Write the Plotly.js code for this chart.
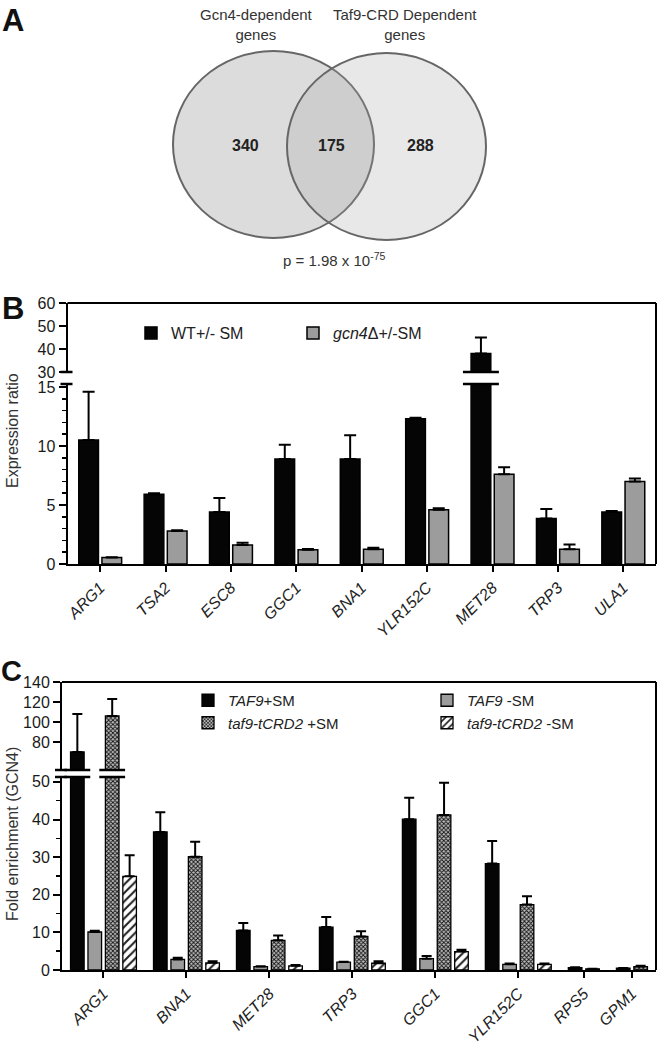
<!DOCTYPE html>
<html><head><meta charset="utf-8">
<script src="https://cdn.plot.ly/plotly-3.0.1.min.js"></script>
<style>html,body{margin:0;padding:0;background:#fff}#chart{width:666px;height:1055px}</style>
</head><body><div id="chart"></div>
<script>
// ---------- Panel A data ----------
const vennSetNames = ['Gcn4-dependent<br>genes', 'Taf9-CRD Dependent<br>genes'];
const vennCounts = [340, 175, 288]; // Gcn4 only, both, Taf9-CRD only
const vennPText = 'p = 1.98 x 10<sup>-75</sup>';

// ---------- Panel B data ----------
const genesB = ['ARG1','TSA2','ESC8','GGC1','BNA1','YLR152C','MET28','TRP3','ULA1'];
const seriesNamesB = ['WT+/- SM', '<i>gcn4</i>\u0394+/-SM'];
const wtB      = [10.5, 5.9, 4.4, 8.9, 8.9, 12.3, 38.0, 3.85, 4.4];
const wtErrB   = [4.1, 0.1, 1.2, 1.2, 2.0, 0.1, 7.0, 0.8, 0.1];
const gcnB     = [0.55, 2.8, 1.6, 1.2, 1.25, 4.6, 7.6, 1.25, 7.0];
const gcnErrB  = [0.03, 0.05, 0.2, 0.08, 0.12, 0.12, 0.6, 0.4, 0.25];
const tickValsLowB = [0, 5, 10, 15];
const tickValsHighB = [30, 40, 50, 60];

// ---------- Panel C data ----------
const genesC = ['ARG1','BNA1','MET28','TRP3','GGC1','YLR152C','RPS5','GPM1'];
const seriesNamesC = ['<i>TAF9</i>+SM', '<i>TAF9</i> -SM', '<i>taf9-tCRD2</i> +SM', '<i>taf9-tCRD2</i> -SM'];
const taf9PlusC      = [70, 36.7, 10.5, 11.4, 40.1, 28.3, 0.6, 0.5];
const taf9PlusErrC   = [38, 5.2, 2.0, 2.7, 5.7, 6.0, 0.1, 0.05];
const taf9MinusC     = [10.1, 2.8, 0.9, 2.1, 3.0, 1.5, null, null];
const taf9MinusErrC  = [0.3, 0.45, 0.1, 0.1, 0.7, 0.2, null, null];
const tcrdPlusC      = [106, 30.1, 7.9, 8.9, 41.2, 17.4, 0.3, 0.9];
const tcrdPlusErrC   = [17, 4.0, 1.3, 1.4, 8.6, 2.2, 0.05, 0.2];
const tcrdMinusC     = [24.9, 1.9, 1.1, 1.8, 4.9, 1.5, null, null];
const tcrdMinusErrC  = [5.6, 0.4, 0.2, 0.55, 0.5, 0.2, null, null];
const tickValsLowC = [0, 10, 20, 30, 40, 50];
const tickValsHighC = [80, 100, 120, 140];

// ---------- helpers ----------
const W = 666, H = 1055;
const px = v => v / W, py = v => 1 - v / H;
const FONT = 'Liberation Sans, Arial, Helvetica, sans-serif';

function groupLayout(seriesArrays, gap) {
  const n = seriesArrays[0].length;
  const xs = seriesArrays.map(() => new Array(n).fill(null));
  const centers = [];
  let cursor = 0;
  for (let i = 0; i < n; i++) {
    const present = [];
    seriesArrays.forEach((s, k) => { if (s[i] != null) present.push(k); });
    const span = present.length + gap;
    const c = cursor + span / 2;
    centers.push(c);
    present.forEach((k, j) => { xs[k][i] = c + (j - (present.length - 1) / 2); });
    cursor += span;
  }
  return {xs, centers, total: cursor};
}

function barTrace(name, x, y, err, st, xa, ya, legend, showlegend) {
  return {
    type: 'bar', name, x, y, width: st.width, xaxis: xa, yaxis: ya,
    legend, showlegend, hoverinfo: 'skip',
    marker: {color: st.color, line: {color: '#000', width: st.lw}, pattern: st.pattern},
    error_y: {type: 'data', symmetric: false, array: err, arrayminus: err.map(() => 0),
              color: '#000', thickness: 2, width: st.cap}
  };
}

const axFont = {family: FONT, size: 16, color: '#1a1a1a'};
function yax(domain, range, anchor, extra) {
  return Object.assign({domain, range, anchor, showline: true, linecolor: '#000', linewidth: 2,
    ticks: 'outside', ticklen: 7, tickwidth: 2, tickcolor: '#000', tickfont: axFont,
    showgrid: false, zeroline: false, fixedrange: true}, extra);
}

// ---------- Panel B geometry ----------
const bX0 = 67.5, bX1 = 656, bBottom = 564, bLowTop = 384, bHighBot = 372, bTop = 303;
const lowRangeB = [0, 15.25], highRangeB = [30, 60];
const BW_B = 0.85;
const layB = groupLayout([wtB, gcnB], 0.82);
const styleBlack = {color: '#050505', lw: 1.5, width: BW_B, cap: 6};
const styleGray = {color: '#9c9c9c', lw: 1.5, width: BW_B, cap: 6};

// ---------- Panel C geometry ----------
const cX0 = 62, cX1 = 656, cBottom = 970, cLowTop = 777, cHighBot = 770, cTop = 682;
const lowRangeC = [0, 51.3], highRangeC = [52, 140];
const BW_C = 0.78;
const seriesC = [taf9PlusC, taf9MinusC, tcrdPlusC, tcrdMinusC];
const errC = [taf9PlusErrC, taf9MinusErrC, tcrdPlusErrC, tcrdMinusErrC];
const layC = groupLayout(seriesC, 0.76);
const stylesC = [
  {color: '#050505', lw: 1.3, width: BW_C, cap: 5},
  {color: '#9c9c9c', lw: 1.3, width: BW_C, cap: 5},
  {color: '#aaaaaa', lw: 1.3, width: BW_C, cap: 5,
   pattern: {shape: 'x', size: 3, solidity: 0.5, fgcolor: '#111', bgcolor: '#bdbdbd', fillmode: 'replace'}},
  {color: '#ffffff', lw: 1.3, width: BW_C, cap: 5,
   pattern: {shape: '/', size: 6, solidity: 0.35, fgcolor: '#222', bgcolor: '#ffffff', fillmode: 'replace'}}
];
const legendOfC = ['legend2', 'legend3', 'legend2', 'legend3'];

// ---------- traces ----------
const traces = [];
[[wtB, wtErrB, styleBlack], [gcnB, gcnErrB, styleGray]].forEach((s, k) => {
  traces.push(barTrace(seriesNamesB[k], layB.xs[k], s[0], s[1], s[2], 'x', 'y', 'legend', true));
});
[[wtB, wtErrB, styleBlack], [gcnB, gcnErrB, styleGray]].forEach((s, k) => {
  traces.push(barTrace(seriesNamesB[k], layB.xs[k], s[0], s[1], s[2], 'x2', 'y2', 'legend', false));
});
seriesC.forEach((s, k) => {
  traces.push(barTrace(seriesNamesC[k], layC.xs[k], s, errC[k], stylesC[k], 'x3', 'y3', legendOfC[k], true));
});
seriesC.forEach((s, k) => {
  traces.push(barTrace(seriesNamesC[k], layC.xs[k], s, errC[k], stylesC[k], 'x4', 'y4', legendOfC[k], false));
});

// ---------- shapes ----------
const shapes = [];
const blk = (w) => ({color: '#000', width: w});
shapes.push({type: 'line', xref: 'paper', yref: 'paper', x0: px(bX0), x1: px(bX1), y0: py(bTop), y1: py(bTop), line: blk(2)});
shapes.push({type: 'line', xref: 'paper', yref: 'paper', x0: px(bX1), x1: px(bX1), y0: py(bBottom), y1: py(bTop), line: blk(2)});
shapes.push({type: 'line', xref: 'paper', yref: 'paper', x0: px(cX0), x1: px(cX1), y0: py(cTop), y1: py(cTop), line: blk(2)});
shapes.push({type: 'line', xref: 'paper', yref: 'paper', x0: px(cX1), x1: px(cX1), y0: py(cBottom), y1: py(cTop), line: blk(2)});
[[bX0, 'y domain', 1], [bX0, 'y2 domain', 0], [cX0, 'y3 domain', 1], [cX0, 'y4 domain', 0]].forEach(([ax, yr, yv]) => {
  shapes.push({type: 'line', xref: 'paper', yref: yr, x0: px(ax - 7), x1: px(ax + 5), y0: yv, y1: yv, line: blk(2.5)});
});
function barBreaks(vals, xs, bw, lowTop, xr, yLow, yHigh) {
  vals.forEach((v, i) => {
    if (v != null && v > lowTop) {
      const x0 = xs[i] - bw / 2 - 0.35, x1 = xs[i] + bw / 2 + 0.35;
      shapes.push({type: 'line', xref: xr, yref: yLow, x0, x1, y0: 1, y1: 1, line: blk(2.5)});
      shapes.push({type: 'line', xref: xr, yref: yHigh, x0, x1, y0: 0, y1: 0, line: blk(2.5)});
    }
  });
}
barBreaks(wtB, layB.xs[0], BW_B, lowRangeB[1], 'x', 'y domain', 'y2 domain');
barBreaks(gcnB, layB.xs[1], BW_B, lowRangeB[1], 'x', 'y domain', 'y2 domain');
seriesC.forEach((s, k) => barBreaks(s, layC.xs[k], BW_C, lowRangeC[1], 'x3', 'y3 domain', 'y4 domain'));

// Venn circles
shapes.push({type: 'circle', xref: 'x5', yref: 'y5', x0: 173, x1: 374, y0: 51, y1: 238,
  fillcolor: 'rgba(140,140,140,0.30)', line: {color: '#666', width: 2}});
shapes.push({type: 'circle', xref: 'x5', yref: 'y5', x0: 287, x1: 486, y0: 53, y1: 240,
  fillcolor: 'rgba(165,165,165,0.25)', line: {color: '#666', width: 2}});

// ---------- annotations ----------
const ann = [];
const txt = (size, extra) => Object.assign({family: FONT, size, color: '#1a1a1a'}, extra || {});
[['A', 1, 2, 31], ['B', 1, 290, 31], ['C', 0, 654, 29]].forEach(([t, x, y, s]) => {
  ann.push({text: '<b>' + t + '</b>', xref: 'paper', yref: 'paper', x: px(x), y: py(y), xanchor: 'left', yanchor: 'top',
    showarrow: false, borderpad: 0, font: txt(s, {color: '#111'})});
});
ann.push({text: vennSetNames[0], xref: 'x5', yref: 'y5', x: 256, y: 24, xanchor: 'center', yanchor: 'middle', showarrow: false, font: txt(15, {color: '#333'})});
ann.push({text: vennSetNames[1], xref: 'x5', yref: 'y5', x: 405, y: 24, xanchor: 'center', yanchor: 'middle', showarrow: false, font: txt(15, {color: '#333'})});
[245, 331, 420].forEach((x, i) => {
  ann.push({text: '<b>' + vennCounts[i] + '</b>', xref: 'x5', yref: 'y5', x, y: 145, xanchor: 'center', yanchor: 'middle', showarrow: false, font: txt(16, {color: '#222'})});
});
ann.push({text: vennPText, xref: 'x5', yref: 'y5', x: 334, y: 259, xanchor: 'center', yanchor: 'middle', showarrow: false, font: txt(15, {color: '#333'})});
ann.push({text: 'Expression ratio', xref: 'paper', yref: 'paper', x: px(12), y: py(431), textangle: -90,
  xanchor: 'center', yanchor: 'middle', showarrow: false, font: txt(16, {color: '#333'})});
ann.push({text: 'Fold enrichment (GCN4)', xref: 'paper', yref: 'paper', x: px(12), y: py(834), textangle: -90,
  xanchor: 'center', yanchor: 'middle', showarrow: false, font: txt(16, {color: '#333'})});

// ---------- layout ----------
const hidden = {visible: false, fixedrange: true};
const layout = {
  width: W, height: H, margin: {l: 0, r: 0, t: 0, b: 0},
  paper_bgcolor: '#fff', plot_bgcolor: 'rgba(0,0,0,0)',
  barmode: 'overlay', hovermode: false, font: {family: FONT, color: '#1a1a1a'},
  xaxis: {domain: [px(bX0), px(bX1)], range: [0, layB.total], anchor: 'y', showline: true, linecolor: '#000', linewidth: 2,
    tickvals: layB.centers, ticktext: genesB.map(g => '<i>' + g + '</i>'), tickangle: -45,
    ticks: 'outside', ticklen: 6, tickwidth: 2, tickcolor: '#000', tickfont: txt(16, {color: '#222'}),
    showgrid: false, zeroline: false, fixedrange: true},
  yaxis: yax([py(bBottom), py(bLowTop)], lowRangeB, 'x', {tickvals: tickValsLowB,
    minor: {dtick: 1, tick0: 0, ticks: 'outside', ticklen: 4, tickwidth: 1.5, tickcolor: '#000', showgrid: false}}),
  xaxis2: Object.assign({domain: [px(bX0), px(bX1)], range: [0, layB.total], anchor: 'y2'}, hidden),
  yaxis2: yax([py(bHighBot), py(bTop)], highRangeB, 'x2', {tickvals: tickValsHighB}),
  xaxis3: {domain: [px(cX0), px(cX1)], range: [0, layC.total], anchor: 'y3', showline: true, linecolor: '#000', linewidth: 2,
    tickvals: layC.centers, ticktext: genesC.map(g => '<i>' + g + '</i>'), tickangle: -45,
    ticks: 'outside', ticklen: 6, tickwidth: 2, tickcolor: '#000', tickfont: txt(16, {color: '#222'}),
    showgrid: false, zeroline: false, fixedrange: true},
  yaxis3: yax([py(cBottom), py(cLowTop)], lowRangeC, 'x3', {tickvals: tickValsLowC,
    minor: {dtick: 5, tick0: 0, ticks: 'outside', ticklen: 4, tickwidth: 1.5, tickcolor: '#000', showgrid: false}}),
  xaxis4: Object.assign({domain: [px(cX0), px(cX1)], range: [0, layC.total], anchor: 'y4'}, hidden),
  yaxis4: yax([py(cHighBot), py(cTop)], highRangeC, 'x4', {tickvals: tickValsHighC}),
  xaxis5: Object.assign({domain: [0, 1], range: [0, W], anchor: 'y5'}, hidden),
  yaxis5: Object.assign({domain: [py(280), 1], range: [280, 0], anchor: 'x5'}, hidden),
  legend: {x: px(131), y: py(316), xanchor: 'left', yanchor: 'top', orientation: 'h',
    entrywidth: 117, entrywidthmode: 'pixels', font: txt(16, {color: '#222'}), bgcolor: 'rgba(0,0,0,0)', traceorder: 'normal'},
  legend2: {x: px(188), y: py(684), xanchor: 'left', yanchor: 'top', orientation: 'v',
    font: txt(15, {color: '#222'}), bgcolor: 'rgba(0,0,0,0)', traceorder: 'normal', tracegroupgap: 0},
  legend3: {x: px(427), y: py(684), xanchor: 'left', yanchor: 'top', orientation: 'v',
    font: txt(15, {color: '#222'}), bgcolor: 'rgba(0,0,0,0)', traceorder: 'normal', tracegroupgap: 0},
  shapes, annotations: ann
};

Plotly.newPlot('chart', traces, layout, {staticPlot: true, displayModeBar: false});
</script>
</body></html>
